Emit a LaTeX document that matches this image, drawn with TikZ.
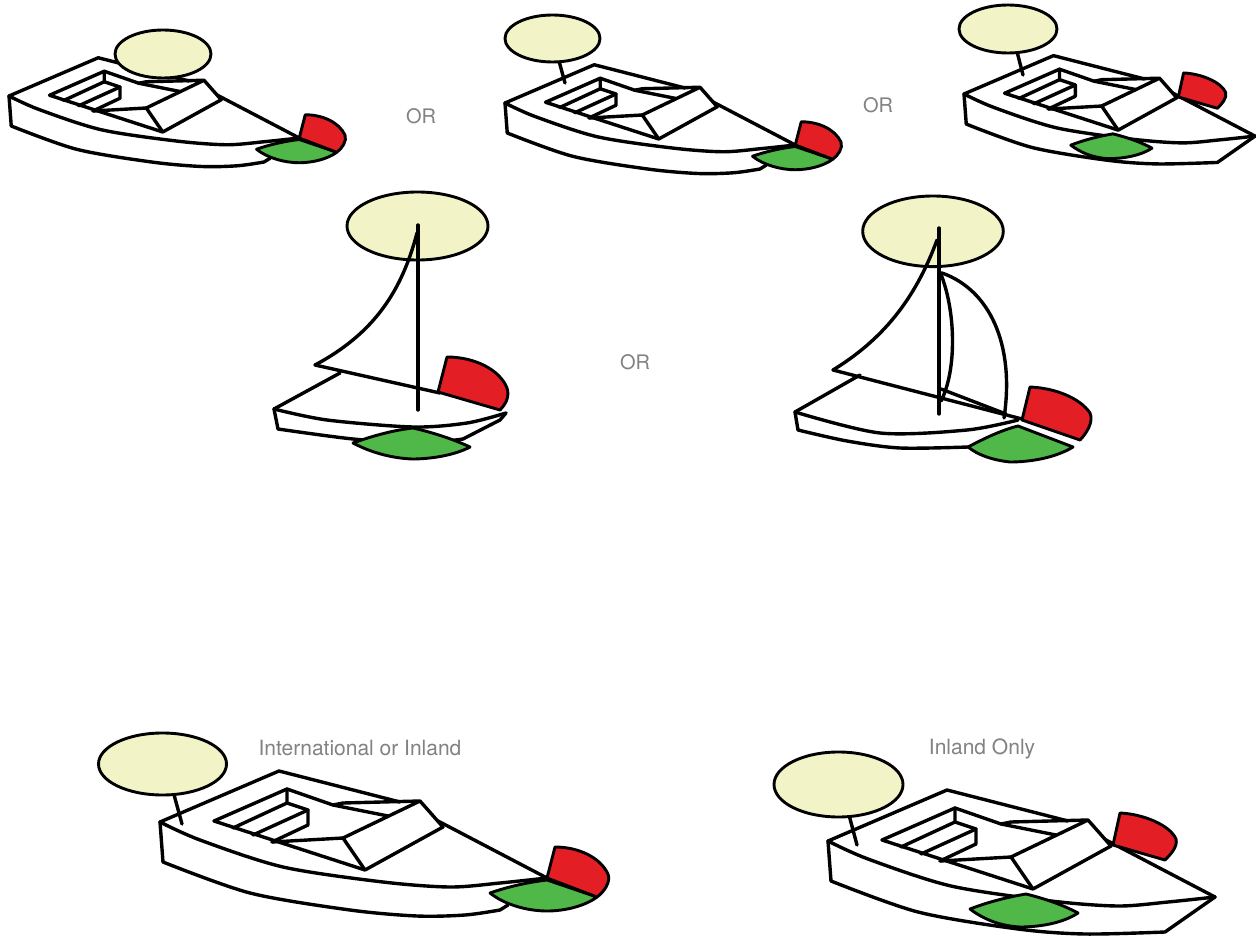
\documentclass[tikz,border=0pt]{standalone}
\usepackage{fontspec}
\setmainfont{TeX Gyre Heros}
\definecolor{lightyel}{RGB}{243,243,200}
\definecolor{redl}{RGB}{227,30,36}
\definecolor{greenl}{RGB}{80,184,72}
\definecolor{txtgray}{RGB}{130,130,130}
\newcommand\bthull{%
 \draw (0,0) -- (3,40);
 \draw plot[smooth] coordinates {(0,0) (40,18) (123,45) (223,60) (290,65) (340,61) (387,56)};
 \draw (0,0) -- (119,-51) -- (240,-20);
 \draw (54,-1) -- (127,-33) -- (173,-17) -- (228,-6);
 \draw (173,-17) -- (183,-19);
 \draw (54,-1) -- (205,48);
 \draw (183,-19) -- (260,-21) -- (283,5) -- (205,48) -- (183,16) -- (260,-21);
 \draw (112,20) -- (183,16);
 \draw (127,-33) -- (127,-19) -- (148,-12) -- (148,3) -- (112,20);
 \draw (73,6) -- (127,-19);
 \draw (93,13) -- (148,-12);
 \draw (278,-1) -- (387,56);
}
\newcommand\btlowA{%
 \draw plot[smooth] coordinates {(3,40) (90,71) (190,88) (257,94) (305,93) (340,88)} -- (348,83);
}
\newcommand\btlowB{%
 \draw plot[smooth] coordinates {(3,40) (90,71) (190,88) (257,93) (337,91)} -- (387,56);
}
\newcommand\btlightA{%
 \filldraw[greenlight] (330,71) .. controls (350,64) and (370,60) .. (387,58) -- (437,75) .. controls (425,84) and (405,89) .. (387,89) .. controls (368,89) and (345,83) .. (330,71) -- cycle;
 \filldraw[redlight] (387,56) -- (395,25) .. controls (418,25) and (440,35) .. (448,52) .. controls (451,60) and (444,70) .. (437,75) -- cycle;
}
\newcommand\btlightB{%
 \filldraw[redlight] (285,4) -- (292,-28) .. controls (315,-27) and (342,-16) .. (348,-2) .. controls (350,6) and (342,14) .. (337,19) -- cycle;
 \filldraw[greenlight] (142,68) .. controls (160,61) and (180,56) .. (198,53) .. controls (218,58) and (235,64) .. (250,72) .. controls (235,82) and (212,86) .. (192,86) .. controls (172,85) and (155,78) .. (142,68) -- cycle;
}
\begin{document}
\begin{tikzpicture}[x=1pt,y=-1pt, line width=3.4pt, line join=round, line cap=round,
  redlight/.style={fill=redl, draw=black, line width=2.9pt},
  greenlight/.style={fill=greenl, draw=black, line width=2.9pt},
  masthead/.style={fill=lightyel, draw=black, line width=2.9pt},
  lbl/.style={text=txtgray, font=\fontsize{21}{25}\selectfont, inner sep=0pt, anchor=base},
  orlbl/.style={text=txtgray, font=\fontsize{20}{24}\selectfont, inner sep=0pt, anchor=base}]
\useasboundingbox (0,0) rectangle (1256,936);
\fill[white] (0,0) rectangle (1256,936);

% top-left boat
\begin{scope}[shift={(9,96)}, scale=0.75]
 \bthull \btlowA \btlightA
\end{scope}
\filldraw[masthead] (163,54) ellipse [x radius=48, y radius=24];

% top-middle boat
\begin{scope}[shift={(505,103)}, scale=0.75]
 \bthull \btlowA \btlightA
\end{scope}
\draw (556,50) -- (565,83);
\filldraw[masthead] (552.5,38.5) ellipse [x radius=47.5, y radius=23.5];

% top-right boat
\begin{scope}[shift={(964,94)}, scale=0.752]
 \bthull \btlowB \btlightB
\end{scope}
\draw (1014,40) -- (1023,75);
\filldraw[masthead] (1008,29) ellipse [x radius=49, y radius=24];

% bottom-left boat
\begin{scope}[shift={(160,822)}]
 \bthull \btlowA \btlightA
\end{scope}
\draw (170,780) -- (182,824);
\filldraw[masthead] (162.5,764) ellipse [x radius=64, y radius=31];

% bottom-right boat
\begin{scope}[shift={(828,841)}]
 \bthull \btlowB \btlightB
\end{scope}
\draw (845,800) -- (857,845);
\filldraw[masthead] (838.5,784.5) ellipse [x radius=64.5, y radius=32.5];

% sailboat 1
\draw (274,409) -- (278,429);
\draw plot[smooth] coordinates {(274,409) (327,420) (413,427) (467,423) (506,413)};
\draw plot[smooth] coordinates {(278,429) (353,439) (420,443) (463,439)} -- (500,420) -- (506,413);
\draw (274,409) -- (340,373);
\draw (315,365) -- (440,393);
\filldraw[masthead] (417.5,226) ellipse [x radius=70.5, y radius=34];
\draw (417,233) .. controls (402,290) and (375,333) .. (315,365);
\draw (418,225) -- (418,410);
\filldraw[redlight] (447,357) .. controls (475,357) and (500,370) .. (507,388) .. controls (510,397) and (505,405) .. (500,410) -- (438,392) -- cycle;
\filldraw[greenlight] (353,443) .. controls (375,435) and (395,430) .. (413,428) .. controls (435,433) and (455,440) .. (470,447) .. controls (455,455) and (432,459) .. (412,459) .. controls (390,458) and (370,452) .. (353,443) -- cycle;

% sailboat 2
\draw (795,412) -- (798,430);
\draw plot[smooth] coordinates {(795,412) (880,433) (967,430) (1018,420)};
\draw plot[smooth] coordinates {(798,430) (847,441) (900,448) (968,447)};
\draw (795,412) -- (860,375);
\draw (833,370) -- (1022,419);
\filldraw[masthead] (933,231.3) ellipse [x radius=70.3, y radius=35.3];
\draw (937,240) .. controls (915,300) and (882,340) .. (833,370);
\draw (939,228) -- (939,414);
\draw (940,272) .. controls (956,310) and (957,370) .. (941,401);
\draw (942,273) .. controls (990,290) and (1015,345) .. (1004,418);
\draw (941,389) -- (1006,414);
\filldraw[redlight] (1030,387) .. controls (1055,388) and (1080,398) .. (1090,413) .. controls (1094,422) and (1086,434) .. (1080,440) -- (1022,420) -- cycle;
\filldraw[greenlight] (968,447) .. controls (985,438) and (1002,430) .. (1018,426) -- (1073,447) .. controls (1055,458) and (1030,462) .. (1010,462) .. controls (992,460) and (978,455) .. (968,447) -- cycle;

% labels
\node[orlbl] (or1) at (421,124) {OR};
\node[orlbl] (or2) at (878,113) {OR};
\node[orlbl] (or3) at (635,369) {OR};
\node[lbl] (intl) at (360,755) {International or Inland};
\node[lbl] (inland) at (982,754) {Inland Only};
\end{tikzpicture}
\end{document}
